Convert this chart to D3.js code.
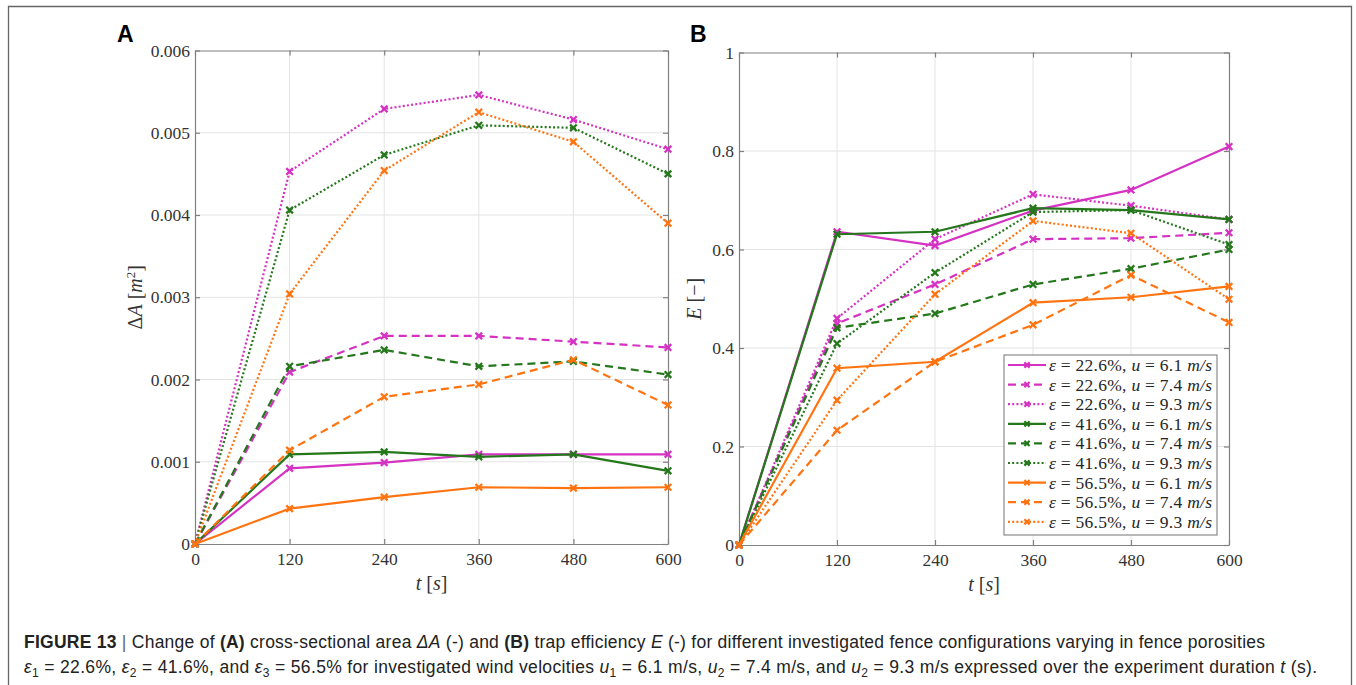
<!DOCTYPE html>
<html>
<head>
<meta charset="utf-8">
<script src="https://cdn.jsdelivr.net/npm/d3@7"></script>
<style>
body{margin:0;background:#fff;}
.tick text{font-family:"Liberation Serif",serif;font-size:17.5px;fill:#333;}
.label{font-family:"Liberation Serif",serif;font-size:20px;fill:#333;}
.legtext{font-family:"Liberation Serif",serif;font-size:17.5px;fill:#262626;}
.panel{font-family:"Liberation Sans",Arial,sans-serif;font-size:23px;font-weight:bold;fill:#000;}
.caption{font-family:"Liberation Sans",Arial,sans-serif;font-size:17.5px;fill:#222;}
</style>
</head>
<body>
<svg id="fig" width="1356" height="685"></svg>
<script>
// time steps (s)
var times = [0,120,240,360,480,600];

// panel A : cross-sectional area dA [m^2]
var areaE226u61 = [0,0.00092,0.00099,0.00109,0.00109,0.00109];
var areaE226u74 = [0,0.00209,0.00253,0.00253,0.00246,0.00239];
var areaE226u93 = [0,0.00453,0.00529,0.00546,0.00516,0.00480];
var areaE416u61 = [0,0.00109,0.00112,0.00106,0.00109,0.00089];
var areaE416u74 = [0,0.00216,0.00236,0.00216,0.00222,0.00206];
var areaE416u93 = [0,0.00406,0.00473,0.00509,0.00506,0.00450];
var areaE565u61 = [0,0.00043,0.00057,0.00069,0.00068,0.00069];
var areaE565u74 = [0,0.00114,0.00179,0.00194,0.00224,0.00169];
var areaE565u93 = [0,0.00304,0.00454,0.00525,0.00489,0.00390];

// panel B : trap efficiency E [-]
var effE226u61 = [0,0.636,0.608,0.679,0.721,0.809];
var effE226u74 = [0,0.450,0.529,0.621,0.623,0.634];
var effE226u93 = [0,0.460,0.621,0.712,0.689,0.661];
var effE416u61 = [0,0.631,0.636,0.684,0.680,0.661];
var effE416u74 = [0,0.441,0.470,0.529,0.561,0.600];
var effE416u93 = [0,0.409,0.553,0.676,0.680,0.610];
var effE565u61 = [0,0.359,0.372,0.492,0.503,0.525];
var effE565u74 = [0,0.233,0.372,0.447,0.548,0.452];
var effE565u93 = [0,0.294,0.509,0.658,0.633,0.499];

var porosities = ["22.6","22.6","22.6","41.6","41.6","41.6","56.5","56.5","56.5"];
var velocities = ["6.1","7.4","9.3","6.1","7.4","9.3","6.1","7.4","9.3"];

var areaTicks = [0,0.001,0.002,0.003,0.004,0.005,0.006];
var effTicks = [0,0.2,0.4,0.6,0.8,1];

var colors = {"22.6":"#d532c3","41.6":"#24781b","56.5":"#ff7410"};
var dashes = {"6.1":null,"7.4":"8,5","9.3":"2,2.2"};

var areaSeries = [areaE226u61,areaE226u74,areaE226u93,areaE416u61,areaE416u74,areaE416u93,areaE565u61,areaE565u74,areaE565u93];
var effSeries = [effE226u61,effE226u74,effE226u93,effE416u61,effE416u74,effE416u93,effE565u61,effE565u74,effE565u93];

var svg = d3.select("#fig");

// frame round the figure
svg.append("path")
    .attr("d","M8.5,690 L8.5,6.5 L1351.5,6.5 L1351.5,690")
    .attr("fill","none")
    .attr("stroke","#666")
    .attr("stroke-width",1.3);

var crossPath = function(s){
    return "M"+(-s)+","+(-s)+"L"+s+","+s+"M"+(-s)+","+s+"L"+s+","+(-s);
}

var drawPanel = function(box, yDomain, yTickVals, yFmt, series, yLabel, letter)
{
    var xScale = d3.scaleLinear().domain([0,600]).range([box.left,box.right]);
    var yScale = d3.scaleLinear().domain(yDomain).range([box.bottom,box.top]);
    var g = svg.append("g");

    // grid
    g.append("g").selectAll("line").data([120,240,360,480]).enter().append("line")
        .attr("x1",function(d){return xScale(d);}).attr("x2",function(d){return xScale(d);})
        .attr("y1",box.top).attr("y2",box.bottom)
        .attr("stroke","#e4e4e4").attr("stroke-width",1);
    g.append("g").selectAll("line").data(yTickVals.slice(1,-1)).enter().append("line")
        .attr("y1",function(d){return yScale(d);}).attr("y2",function(d){return yScale(d);})
        .attr("x1",box.left).attr("x2",box.right)
        .attr("stroke","#e4e4e4").attr("stroke-width",1);

    // axes, ticks inside like matlab
    var bottom = g.append("g").attr("transform","translate(0,"+box.bottom+")")
        .call(d3.axisBottom(xScale).tickValues(times).tickSizeInner(-5).tickSizeOuter(0).tickPadding(9));
    var left = g.append("g").attr("transform","translate("+box.left+",0)")
        .call(d3.axisLeft(yScale).tickValues(yTickVals).tickFormat(yFmt).tickSizeInner(-5).tickSizeOuter(0).tickPadding(5));
    var top = g.append("g").attr("transform","translate(0,"+box.top+")")
        .call(d3.axisTop(xScale).tickValues(times).tickFormat("").tickSizeInner(-5).tickSizeOuter(0));
    var right = g.append("g").attr("transform","translate("+box.right+",0)")
        .call(d3.axisRight(yScale).tickValues(yTickVals).tickFormat("").tickSizeInner(-5).tickSizeOuter(0));
    [bottom,left,top,right].forEach(function(a){
        a.selectAll("path,line").attr("stroke","#808080").attr("stroke-width",1.2);
    });

    // lines
    var line = d3.line()
        .x(function(d,i){return xScale(times[i]);})
        .y(function(d){return yScale(d);});

    series.forEach(function(vals,k){
        var col = colors[porosities[k]];
        var dash = dashes[velocities[k]];
        g.append("path")
            .datum(vals)
            .attr("d",line)
            .attr("fill","none")
            .attr("stroke",col)
            .attr("stroke-width",2.2)
            .attr("stroke-dasharray",dash);
        g.append("g").selectAll("path").data(vals).enter().append("path")
            .attr("d",crossPath(3.3))
            .attr("transform",function(d,i){return "translate("+xScale(times[i])+","+yScale(d)+")";})
            .attr("stroke",col)
            .attr("stroke-width",2.3)
            .attr("fill","none");
    });

    // labels
    g.append("text").classed("panel",true).attr("x",box.letterX).attr("y",42).text(letter);

    var xl = g.append("text").classed("label",true)
        .attr("text-anchor","middle")
        .attr("x",(box.left+box.right)/2)
        .attr("y",box.bottom+46);
    xl.append("tspan").attr("font-style","italic").text("t");
    xl.append("tspan").text(" [");
    xl.append("tspan").attr("font-style","italic").text("s");
    xl.append("tspan").text("]");

    var yl = g.append("text").classed("label",true)
        .attr("text-anchor","middle")
        .attr("transform","translate("+box.yLabelX+","+((box.top+box.bottom)/2)+") rotate(-90)");
    yLabel(yl);

    return {x:xScale,y:yScale,g:g};
}

var areaFmt = function(d){ return d===0 ? "0" : d3.format(".3f")(d); };
var effFmt = function(d){ return d3.format("")(d); };

var boxA = {left:195,right:668,top:50.5,bottom:544,letterX:117,yLabelX:142};
var boxB = {left:739,right:1229,top:52.5,bottom:545,letterX:690,yLabelX:701};

drawPanel(boxA,[0,0.006],areaTicks,areaFmt,areaSeries,function(t){
    t.append("tspan").text("Δ");
    t.append("tspan").attr("font-style","italic").text("A");
    t.append("tspan").text(" [");
    t.append("tspan").attr("font-style","italic").text("m");
    t.append("tspan").attr("font-size","13px").attr("dy",-7).text("2");
    t.append("tspan").attr("dy",7).text("]");
},"A");

drawPanel(boxB,[0,1],effTicks,effFmt,effSeries,function(t){
    t.append("tspan").attr("font-style","italic").text("E");
    t.append("tspan").text(" [−]");
},"B");

// legend in panel B
var legend = svg.append("g").attr("transform","translate(1004,355)");
legend.append("rect")
    .attr("width",213).attr("height",180)
    .attr("fill","#fff").attr("stroke","#8a8a8a").attr("stroke-width",1.2);

porosities.forEach(function(p,k){
    var yy = 10 + k*19.6;
    var col = colors[p];
    var row = legend.append("g").attr("transform","translate(0,"+yy+")");
    row.append("line").attr("x1",4).attr("x2",42).attr("y1",0).attr("y2",0)
        .attr("stroke",col).attr("stroke-width",2.2).attr("stroke-dasharray",dashes[velocities[k]]);
    row.append("path").attr("d",crossPath(2.6)).attr("transform","translate(23,0)")
        .attr("stroke",col).attr("stroke-width",2.2).attr("fill","none");
    var t = row.append("text").classed("legtext",true).attr("x",45).attr("y",6)
        .attr("textLength",163).attr("lengthAdjust","spacing");
    t.append("tspan").attr("font-style","italic").text("ε");
    t.append("tspan").text(" = "+p+"%, ");
    t.append("tspan").attr("font-style","italic").text("u");
    t.append("tspan").text(" = "+velocities[k]+" ");
    t.append("tspan").attr("font-style","italic").text("m/s");
});

// caption
var cap1 = svg.append("text").classed("caption",true).attr("x",24).attr("y",648)
    .attr("textLength",1241).attr("lengthAdjust","spacing");
cap1.append("tspan").attr("font-weight","bold").text("FIGURE 13 ");
cap1.append("tspan").attr("fill","#666").text("| ");
cap1.append("tspan").text("Change of ");
cap1.append("tspan").attr("font-weight","bold").text("(A)");
cap1.append("tspan").text(" cross-sectional area ");
cap1.append("tspan").attr("font-style","italic").text("ΔA");
cap1.append("tspan").text(" (-) and ");
cap1.append("tspan").attr("font-weight","bold").text("(B)");
cap1.append("tspan").text(" trap efficiency ");
cap1.append("tspan").attr("font-style","italic").text("E");
cap1.append("tspan").text(" (-) for different investigated fence configurations varying in fence porosities");

var cap2 = svg.append("text").classed("caption",true).attr("x",24).attr("y",673)
    .attr("textLength",1293).attr("lengthAdjust","spacing");
var sub = function(sym,idx,rest){
    cap2.append("tspan").attr("font-style","italic").text(sym);
    cap2.append("tspan").attr("font-size","12px").attr("dy",4).text(idx);
    cap2.append("tspan").attr("dy",-4).text(rest);
}
sub("ε","1"," = 22.6%, ");
sub("ε","2"," = 41.6%, and ");
sub("ε","3"," = 56.5% for investigated wind velocities ");
sub("u","1"," = 6.1 m/s, ");
sub("u","2"," = 7.4 m/s, and ");
sub("u","2"," = 9.3 m/s expressed over the experiment duration ");
cap2.append("tspan").attr("font-style","italic").text("t");
cap2.append("tspan").text(" (s).");
</script>
</body>
</html>
